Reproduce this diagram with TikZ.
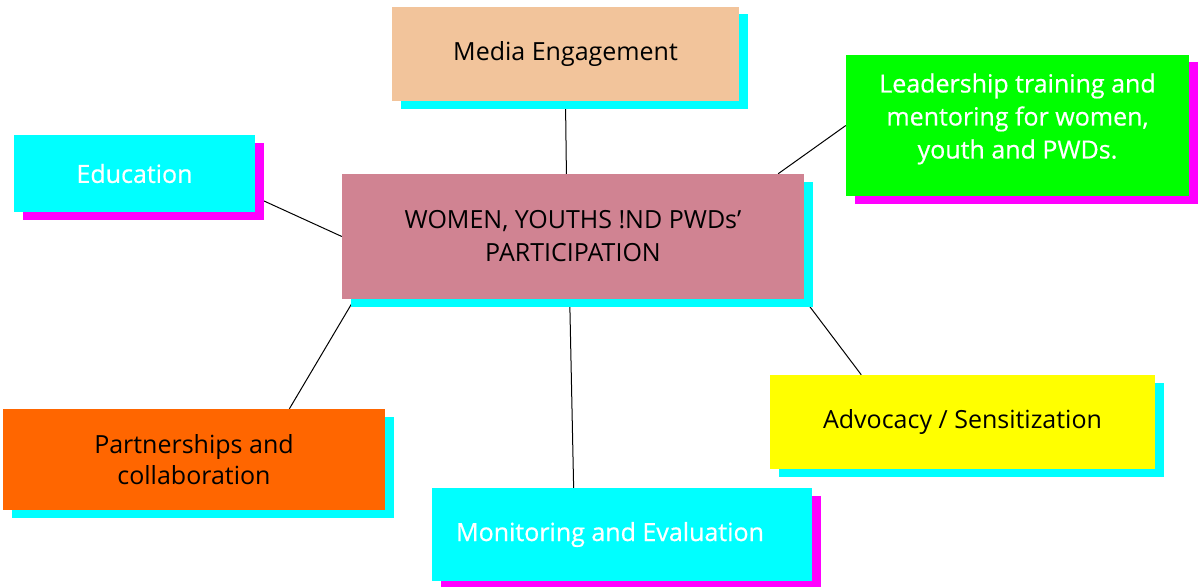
\documentclass[tikz,border=0pt]{standalone}
\usepackage{fontspec}
\setmainfont{Open Sans}
\newfontfamily\heavy{Open Sans}[FakeBold=0.6]
\usetikzlibrary{shadows,backgrounds}
\definecolor{peach}{HTML}{F2C49B}
\definecolor{rose}{HTML}{D08392}
\definecolor{lime}{HTML}{00FF00}
\definecolor{aqua}{HTML}{00FFFF}
\definecolor{fuchsia}{HTML}{FF00FF}
\definecolor{tangerine}{HTML}{FF6600}
\definecolor{lemon}{HTML}{FFFF00}
\tikzset{
  box/.style={rectangle, inner sep=0pt, align=center,
    font=\fontsize{25}{33}\selectfont,
    drop shadow={shadow xshift=9pt, shadow yshift=-7.5pt, opacity=1, fill=#1}},
  lightbox/.style={box=fuchsia, text=white, font=\fontsize{25}{33}\selectfont\heavy},
  link/.style={line width=1pt}
}
\begin{document}
\begin{tikzpicture}[x=1pt, y=-1pt]
  \useasboundingbox (0,0) rectangle (1201,586);
  \node[box=aqua, fill=rose, minimum width=462pt, minimum height=125pt] (centre) at (573,236.5)
    {WOMEN, YOUTHS !ND PWDs’\\PARTICIPATION};
  \node[box=aqua, fill=peach, minimum width=347pt, minimum height=94pt] (media) at (565.5,54)
    {Media Engagement};
  \node[lightbox, fill=aqua, minimum width=241pt, minimum height=77pt] (edu) at (134.5,173.5)
    {Education};
  \node[lightbox, fill=lime, minimum width=343pt, minimum height=141pt] (leader) at (1017.5,125.5)
    {Leadership training and\\mentoring for women,\\youth and PWDs.\\[-14pt]\mbox{}};
  \node[box=aqua, fill=tangerine, minimum width=382pt, minimum height=101pt,
    font=\fontsize{25}{31}\selectfont] (partner) at (194,459.5)
    {Partnerships and\\collaboration};
  \node[lightbox, fill=aqua, minimum width=380pt, minimum height=93pt] (monitor) at (622,534.5)
    {Monitoring and Evaluation\kern24pt};
  \node[box=aqua, fill=lemon, minimum width=385pt, minimum height=94pt] (advo) at (962.5,422)
    {Advocacy / Sensitization};
  \begin{scope}[on background layer]
    \draw[link] (media.south) -- (centre.96);
    \draw[link] (edu.-11) -- (centre.west);
    \draw[link] (leader.west) -- (centre.17);
    \draw[link] (centre.196) -- (partner.28);
    \draw[link] (centre.-93) -- (monitor.136);
    \draw[link] (centre.south east) -- (advo.155);
  \end{scope}
\end{tikzpicture}
\end{document}
